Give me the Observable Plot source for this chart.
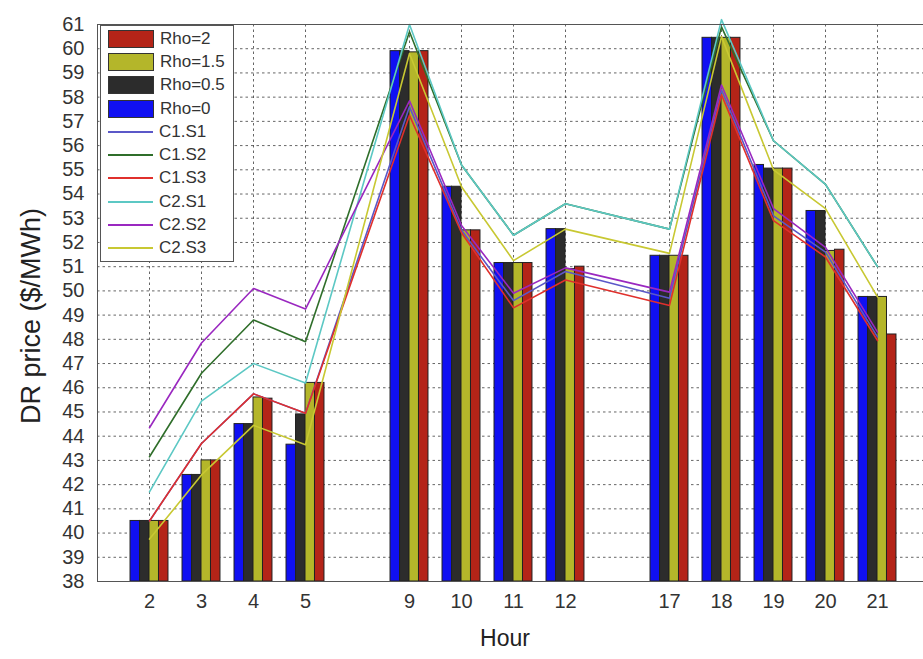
<!DOCTYPE html>
<html><head><meta charset="utf-8">
<script src="https://cdn.jsdelivr.net/npm/d3@7"></script>
<script src="https://cdn.jsdelivr.net/npm/@observablehq/plot@0.6"></script>
<style>
body{margin:0;background:#fff;overflow:hidden;font-family:Arial,"Liberation Sans",sans-serif}
#wrap{position:relative;width:923px;height:659px;overflow:hidden}
#legend{position:absolute;left:100px;top:25px;width:134px;height:237px;border:1px solid #555;background:#fff;box-sizing:border-box;padding-top:1px}
.row{height:23.3px;display:flex;align-items:center;padding-left:7px;font-size:17px;color:#333}
.patch{width:44px;height:16px;border:1px solid #333;margin-right:6px}
.ln{width:45px;height:2px;margin-right:6px;margin-top:0}
#xlabel{position:absolute;left:0;width:1010px;top:625px;text-align:center;font-size:23px;color:#222}
#ylabel{position:absolute;left:31px;top:316px;transform:translate(-50%,-50%) rotate(-90deg);font-size:27px;color:#222;white-space:nowrap}
</style></head><body>
<div id="wrap"><div id="chart"></div><div id="legend"></div>
<div id="xlabel">Hour</div><div id="ylabel">DR price ($/MWh)</div></div>
<script>
const hours = [2,3,4,5,9,10,11,12,17,18,19,20,21];
const yTicks = [38,39,40,41,42,43,44,45,46,47,48,49,50,51,52,53,54,55,56,57,58,59,60,61];

const barSeries = ["Rho=0","Rho=0.5","Rho=1.5","Rho=2"];
const rho0  = [40.5, 42.4, 44.5, 43.65, 59.9, 54.3, 51.15, 52.55, 51.45, 60.45, 55.2, 53.3, 49.75];
const rho05 = [40.5, 42.4, 44.5, 44.9, 59.9, 54.3, 51.15, 52.55, 51.45, 60.45, 55.05, 53.3, 49.75];
const rho15 = [40.5, 43.0, 45.6, 46.2, 59.85, 52.5, 51.15, 50.9, 51.45, 60.45, 55.05, 51.65, 49.75];
const rho2  = [40.5, 43.0, 45.55, 46.2, 59.9, 52.5, 51.15, 51.0, 51.45, 60.45, 55.05, 51.7, 48.2];

const lineSeries = ["C1.S1","C1.S2","C1.S3","C2.S1","C2.S2","C2.S3"];
const c1s1 = [40.5, 43.7, 45.75, 44.95, 57.6, 52.5, 49.6, 50.8, 49.7, 58.3, 53.1, 51.6, 48.1];
const c1s2 = [43.15, 46.6, 48.8, 47.9, 60.7, 55.2, 52.3, 53.6, 52.55, 60.9, 56.2, 54.4, 51.0];
const c1s3 = [40.5, 43.7, 45.75, 44.95, 57.25, 52.4, 49.3, 50.45, 49.4, 58.1, 52.9, 51.4, 47.95];
const c2s1 = [41.7, 45.45, 47.0, 46.2, 61.0, 55.2, 52.3, 53.6, 52.55, 61.2, 56.2, 54.4, 51.0];
const c2s2 = [44.35, 47.85, 50.1, 49.25, 57.85, 52.7, 49.9, 50.95, 49.95, 58.5, 53.4, 51.8, 48.3];
const c2s3 = [39.75, 42.4, 44.45, 43.65, 59.8, 54.3, 51.25, 52.55, 51.55, 60.5, 55.0, 53.4, 49.75];

const barColors = {"Rho=0":"#1010f2","Rho=0.5":"#2c2c2c","Rho=1.5":"#b4b62a","Rho=2":"#b42418"};
const lineColors = {"C1.S1":"#5b58c8","C1.S2":"#2f6e2a","C1.S3":"#e0302c","C2.S1":"#5cc8c4","C2.S2":"#9a28c0","C2.S3":"#c8c832"};

// slot positions: consecutive hours adjacent, one empty slot between blocks
const pos = [];
hours.forEach((h, i) => { pos.push(i === 0 ? 1 : pos[i-1] + (h - hours[i-1] > 1 ? 2 : 1)); });

const barVals = [rho0, rho05, rho15, rho2];
const bars = [];
barSeries.forEach((s, k) => barVals[k].forEach((v, i) => bars.push({pos: pos[i], k, series: s, value: v})));
const lineVals = [c1s1, c1s2, c1s3, c2s1, c2s2, c2s3];
const lines = [];
lineSeries.forEach((s, k) => lineVals[k].forEach((v, i) => lines.push({pos: pos[i], series: s, value: v})));

const groupW = 0.73, bw = groupW / barSeries.length;
const base = yTicks[0];

const chart = Plot.plot({
  width: 923, height: 659,
  marginLeft: 97, marginTop: 24, marginBottom: 78, marginRight: 0,
  style: {fontFamily: "Arial, 'Liberation Sans', sans-serif", fontSize: "20px", color: "#333", background: "#fff"},
  x: {domain: [0, 16], range: [97, 929]},
  y: {domain: [yTicks[0], yTicks[yTicks.length-1]], range: [581, 24]},
  marks: [
    Plot.ruleY(yTicks.slice(1, -1), {stroke: "#333", strokeOpacity: 0.75, strokeDasharray: "2.5,3"}),
    Plot.ruleX(pos, {stroke: "#333", strokeOpacity: 0.75, strokeDasharray: "2.5,3"}),
    Plot.rect(bars, {
      x1: d => d.pos - groupW/2 + d.k*bw, x2: d => d.pos - groupW/2 + (d.k+1)*bw,
      y1: () => base, y2: "value",
      fill: d => barColors[d.series], stroke: "#222", strokeWidth: 1
    }),
    Plot.line(lines, {x: "pos", y: "value", z: "series", stroke: d => lineColors[d.series], strokeWidth: 1.6}),
    Plot.axisY({ticks: yTicks, tickSize: 0, tickPadding: 13, label: null, fill: "#333"}),
    Plot.axisX({ticks: pos, tickFormat: p => hours[pos.indexOf(p)], tickSize: 0, tickPadding: 12, label: null, fill: "#333"}),
    Plot.frame({stroke: "#555"})
  ]
});
document.getElementById("chart").appendChild(chart);

const leg = document.getElementById("legend");
[...barSeries].reverse().forEach(s => {
  leg.insertAdjacentHTML("beforeend", `<div class="row"><div class="patch" style="background:${barColors[s]}"></div>${s}</div>`);
});
lineSeries.forEach(s => {
  leg.insertAdjacentHTML("beforeend", `<div class="row"><div class="ln" style="background:${lineColors[s]}"></div>${s}</div>`);
});
</script>
</body></html>
